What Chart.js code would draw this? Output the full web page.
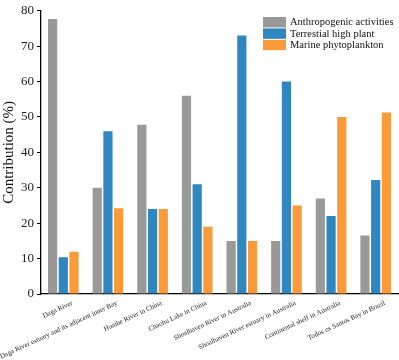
<!DOCTYPE html>
<html>
<head>
<meta charset="utf-8">
<script src="https://cdn.jsdelivr.net/npm/chart.js@4.4.1/dist/chart.umd.min.js"></script>
<style>
  body { margin: 0; background: #fff; }
</style>
</head>
<body>
<canvas id="contribChart" width="399" height="360"></canvas>
<script>
// categories and values
const sites = [
    'Daga River',
    'Daga River estuary and its adjacent inner Bay',
    'Huaihe River in China',
    'Chaohu Lake in China',
    'Shoalhaven River in Australia',
    'Shoalhaven River estuary in Australia',
    'Continental shelf in Australia',
    'Todos os Santos Bay in Brazil'
];
const anthropogenic = [77.7, 30, 47.8, 56, 15, 15, 27, 16.5];
const terrestrial = [10.4, 46, 24, 31, 73, 60, 22, 32.2];
const marine = [11.9, 24.2, 24, 19, 15, 25, 50, 51.3];
const seriesNames = ['Anthropogenic activities', 'Terrestial high plant', 'Marine phytoplankton'];
const seriesColors = ['#999999', '#2f87c2', '#fa9a38'];

const serif = "'Liberation Serif', 'Times New Roman', serif";

// legend drawn inside the plot, top right
const boxLegend = {
    id: 'boxLegend',
    afterDraw(chart) {
        const ctx = chart.ctx;
        ctx.save();
        ctx.font = '10.5px ' + serif;
        ctx.textBaseline = 'middle';
        ctx.textAlign = 'left';
        chart.data.datasets.forEach((ds, i) => {
            const y = 17 + i * 11.4;
            ctx.fillStyle = ds.backgroundColor;
            ctx.fillRect(263, y, 23, 10.4);
            ctx.fillStyle = '#111';
            ctx.fillText(ds.label, 290, y + 5.5);
        });
        ctx.restore();
    }
};

const datasets = [anthropogenic, terrestrial, marine].map((vals, i) => ({
    label: seriesNames[i],
    data: vals,
    backgroundColor: seriesColors[i],
    borderWidth: 0,
    categoryPercentage: 0.72,
    barPercentage: 0.86
}));

new Chart(document.getElementById('contribChart'), {
    type: 'bar',
    data: { labels: sites, datasets: datasets },
    options: {
        responsive: false,
        animation: false,
        devicePixelRatio: 1,
        layout: { padding: { top: 9, right: 1, left: 0, bottom: 0 } },
        plugins: {
            legend: { display: false },
            tooltip: { enabled: false }
        },
        scales: {
            x: {
                grid: { display: false },
                border: { display: true, color: '#000', width: 1.3 },
                ticks: {
                    autoSkip: false,
                    minRotation: 25,
                    maxRotation: 25,
                    padding: -3,
                    labelOffset: 9,
                    color: '#222',
                    font: { family: serif, size: 7 }
                },
                afterFit(scale) { scale.height = 66; }
            },
            y: {
                min: 0,
                max: 80,
                grid: {
                    drawOnChartArea: false,
                    drawTicks: true,
                    tickLength: 4,
                    tickColor: '#000'
                },
                border: { display: true, color: '#000', width: 1.3 },
                ticks: {
                    stepSize: 5,
                    padding: 3,
                    color: '#222',
                    font: { family: serif, size: 13 },
                    callback: (v) => (v % 10 === 0 ? v : '')
                },
                title: {
                    display: true,
                    text: 'Contribution (%)',
                    color: '#111',
                    font: { family: serif, size: 15 },
                    padding: 0
                },
                afterFit(scale) { scale.width = 41; }
            }
        }
    },
    plugins: [boxLegend]
});
</script>
</body>
</html>
